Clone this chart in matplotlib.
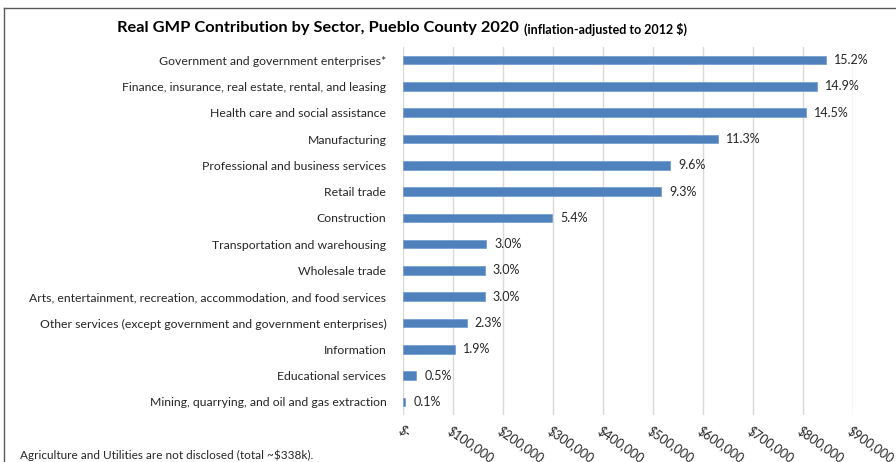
import matplotlib
matplotlib.use("Agg")
import matplotlib.pyplot as plt

plt.rcParams['font.family'] = ['Lato', 'DejaVu Sans']

sectors = [
    "Government and government enterprises*",
    "Finance, insurance, real estate, rental, and leasing",
    "Health care and social assistance",
    "Manufacturing",
    "Professional and business services",
    "Retail trade",
    "Construction",
    "Transportation and warehousing",
    "Wholesale trade",
    "Arts, entertainment, recreation, accommodation, and food services",
    "Other services (except government and government enterprises)",
    "Information",
    "Educational services",
    "Mining, quarrying, and oil and gas extraction",
]
values = [845000, 827000, 805000, 629000, 534000, 516000, 298000,
          166000, 163000, 163000, 127000, 104000, 26000, 4000]
pct_labels = ["15.2%", "14.9%", "14.5%", "11.3%", "9.6%", "9.3%", "5.4%",
              "3.0%", "3.0%", "3.0%", "2.3%", "1.9%", "0.5%", "0.1%"]
xticks = [0, 100000, 200000, 300000, 400000, 500000, 600000, 700000, 800000, 900000]
xtick_labels = ["$-", "$100,000", "$200,000", "$300,000", "$400,000", "$500,000",
                "$600,000", "$700,000", "$800,000", "$900,000"]

W, H = 896, 462
fig = plt.figure(figsize=(W/100, H/100), dpi=100)
ax = fig.add_axes([403/W, 1-415/H, (853-403)/W, (415-47)/H])

y = list(range(len(sectors)))
ax.barh(y, values, height=0.33, color='#4f81bd', edgecolor='#7aa0cf', linewidth=0.6, zorder=3)
for yi, v, lab in zip(y, values, pct_labels):
    ax.annotate(lab, (v, yi), xytext=(6, 0), textcoords='offset points',
                va='center', ha='left', fontsize=9, color='#262626')

ax.set_ylim(len(sectors)-0.5, -0.5)
ax.set_xlim(0, 900000)
ax.set_yticks(y)
ax.set_yticklabels(sectors, fontsize=8.8, color='#262626')
ax.set_xticks(xticks)
ax.set_xticklabels(xtick_labels, fontsize=9, color='#262626', rotation=-35,
                   ha='left', va='top', rotation_mode='anchor')
ax.tick_params(axis='both', length=0)
ax.tick_params(axis='y', pad=12)
ax.tick_params(axis='x', pad=6)
ax.grid(axis='x', color='#d9d9d9', linewidth=1, zorder=0)
for s in ax.spines.values():
    s.set_visible(False)

title = fig.text(117/W, 1-28/H, "Real GMP Contribution by Sector, Pueblo County 2020", fontsize=11.8,
                 fontweight='bold', ha='left', va='center', color='black')
fig.canvas.draw()
bb = title.get_window_extent()
fig.text((bb.x1+5)/W, 1-29/H, "(inflation-adjusted to 2012 $)", fontsize=9,
         fontweight='bold', ha='left', va='center', color='black')

fig.text(20/W, 1-455/H, "Agriculture and Utilities are not disclosed (total ~$338k).",
         fontsize=8.5, ha='left', va='center', color='#262626')

# chart border
fig.add_artist(plt.Line2D([4/W, 4/W], [0, 1-8/H], color='#595959', linewidth=1, transform=fig.transFigure))
fig.add_artist(plt.Line2D([4/W, 1], [1-8/H, 1-8/H], color='#595959', linewidth=1, transform=fig.transFigure))

fig.savefig("out.png", dpi=100)
